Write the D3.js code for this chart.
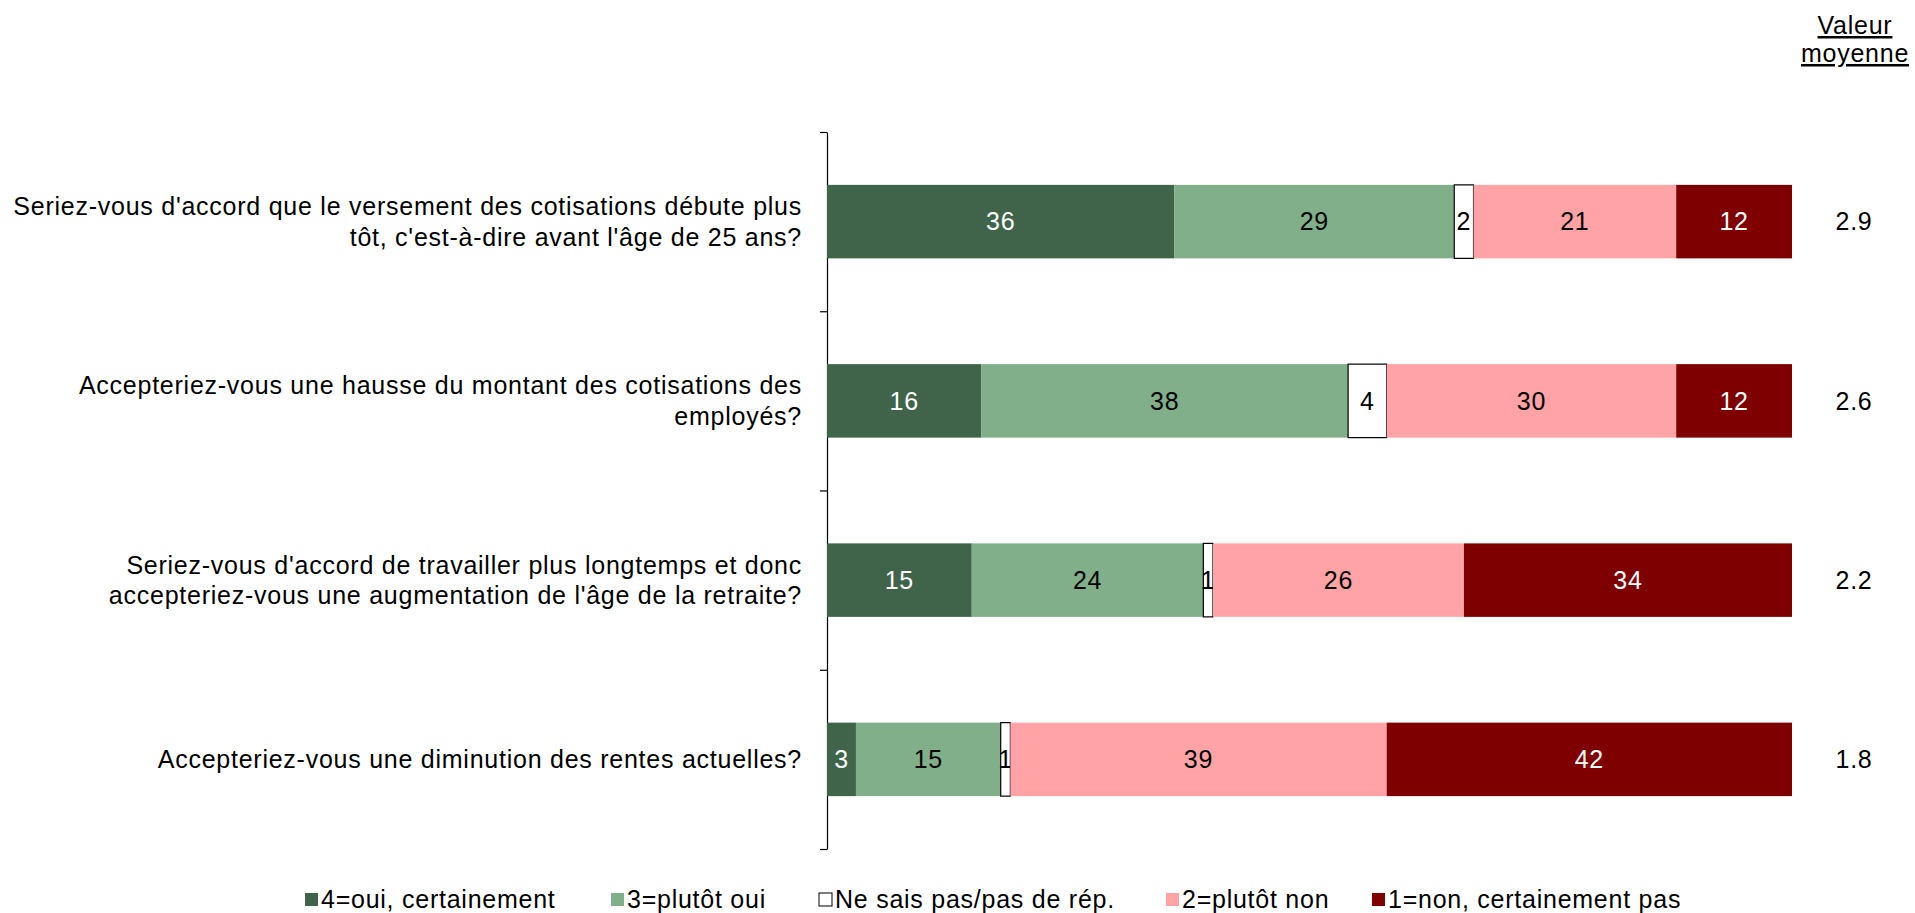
<!DOCTYPE html>
<html>
<head>
<meta charset="utf-8">
<script src="https://cdn.jsdelivr.net/npm/d3@7"></script>
<style>
  body { margin: 0; background: #fff; }
  svg text { font-family: "Liberation Sans", Arial, sans-serif; letter-spacing: 0.75px; }
</style>
</head>
<body>
<div id="chart"></div>
<script>
// questions (each line of the label)
var questions = [
  ["Seriez-vous d'accord que le versement des cotisations débute plus", "tôt, c'est-à-dire avant l'âge de 25 ans?"],
  ["Accepteriez-vous une hausse du montant des cotisations des", "employés?"],
  ["Seriez-vous d'accord de travailler plus longtemps et donc", "accepteriez-vous une augmentation de l'âge de la retraite?"],
  ["Accepteriez-vous une diminution des rentes actuelles?"]
];
var seriesNames = ["4=oui, certainement", "3=plutôt oui", "Ne sais pas/pas de rép.", "2=plutôt non", "1=non, certainement pas"];
var oui4   = [36, 16, 15, 3];
var oui3   = [29, 38, 24, 15];
var nsp    = [2, 4, 1, 1];
var non2   = [21, 30, 26, 39];
var non1   = [12, 12, 34, 42];
var means  = ["2.9", "2.6", "2.2", "1.8"];

var colors    = ["#3f644a", "#80af8a", "#ffffff", "#ffa3a6", "#7f0000"];
var textColor = ["#fff", "#000", "#000", "#000", "#fff"];

let width = 1915, height = 913;
let fs = 25;

var svg = d3.select('#chart').append('svg')
    .attr('width', width)
    .attr('height', height);

let xScale = d3.scaleLinear().domain([0, 100]).range([827, 1792]);
let yScale = d3.scaleBand().domain(d3.range(questions.length)).range([132, 849]).padding(0);
let barH = yScale.bandwidth() * 0.41;

// axis with ticks between categories
let tickScale = d3.scaleLinear().domain([0, questions.length]).range([132, 849]);
let yAxis = d3.axisLeft(tickScale).ticks(questions.length).tickFormat('').tickSize(7).tickSizeOuter(0);
var axisG = svg.append('g')
    .attr('transform', 'translate(' + 827 + ',0)')
    .call(yAxis);
axisG.selectAll('path, line').attr('stroke', '#000').attr('stroke-width', 1.2);

var series = [oui4, oui3, nsp, non2, non1];
var rows = questions.map((q, i) => {
  let start = 0;
  return series.map((s, k) => {
    var seg = { row: i, k: k, v: s[i], x0: start, x1: start + s[i] };
    start += s[i];
    return seg;
  });
});

var segs = svg.append('g').selectAll('g')
    .data(d3.merge(rows))
    .enter()
    .append('g');

segs.append('rect')
    .attr('x', d => xScale(d.x0))
    .attr('y', d => yScale(d.row) + (yScale.bandwidth() - barH) / 2)
    .attr('width', d => xScale(d.x1) - xScale(d.x0))
    .attr('height', barH)
    .attr('fill', d => colors[d.k])
    .attr('stroke', d => d.k == 2 ? '#000' : 'none')
    .attr('stroke-width', 1.2);

segs.append('text')
    .attr('x', d => (xScale(d.x0) + xScale(d.x1)) / 2)
    .attr('y', d => yScale(d.row) + yScale.bandwidth() / 2)
    .attr('dy', '0.35em')
    .attr('text-anchor', 'middle')
    .attr('font-size', fs)
    .attr('fill', d => textColor[d.k])
    .text(d => d.v);

// category labels
questions.forEach((lines, i) => {
  let cy = yScale(i) + yScale.bandwidth() / 2;
  let lh = 30.5;
  let t = svg.append('text')
      .attr('text-anchor', 'end')
      .attr('font-size', fs)
      .attr('fill', '#000');
  lines.forEach((l, j) => {
    t.append('tspan')
      .attr('x', 802)
      .attr('y', cy + (j - (lines.length - 1) / 2) * lh)
      .attr('dy', '0.35em')
      .text(l);
  });
});

// mean values
svg.append('g').selectAll('text')
    .data(means)
    .enter()
    .append('text')
    .attr('x', 1854)
    .attr('y', (d, i) => yScale(i) + yScale.bandwidth() / 2)
    .attr('dy', '0.35em')
    .attr('text-anchor', 'middle')
    .attr('font-size', fs)
    .text(d => d);

// header
svg.append('text').attr('x', 1855).attr('y', 34).attr('text-anchor', 'middle')
    .attr('font-size', fs).attr('text-decoration', 'underline').text('Valeur');
svg.append('text').attr('x', 1855).attr('y', 62).attr('text-anchor', 'middle')
    .attr('font-size', fs).attr('text-decoration', 'underline').text('moyenne');

// legend
var legendX = [305, 611, 819, 1166, 1372];
var legend = svg.append('g').selectAll('g')
    .data(seriesNames)
    .enter()
    .append('g')
    .attr('transform', (d, i) => 'translate(' + legendX[i] + ',' + 899 + ')');
legend.append('rect')
    .attr('x', 0).attr('y', -6)
    .attr('width', 13).attr('height', 13)
    .attr('fill', (d, i) => colors[i])
    .attr('stroke', (d, i) => i == 2 ? '#000' : 'none');
legend.append('text')
    .attr('x', 16)
    .attr('dy', '0.35em')
    .attr('font-size', fs)
    .text(d => d);
</script>
</body>
</html>
